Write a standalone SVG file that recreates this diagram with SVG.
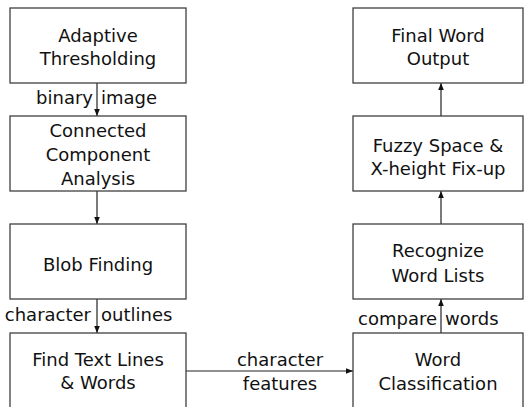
<svg xmlns="http://www.w3.org/2000/svg" width="525" height="407" viewBox="0 0 525 407">
<defs>
<style>
.box{fill:#fff;stroke:#404040;stroke-width:1.3}
.t{font-family:"DejaVu Sans","Noto Sans",sans-serif;font-size:18px;fill:#111;text-anchor:middle}
.l{font-family:"DejaVu Sans","Noto Sans",sans-serif;font-size:18px;fill:#111}
.c{stroke:#222;stroke-width:1.2;fill:none}
</style>
<marker id="ah" viewBox="0 0 10 10" refX="10" refY="5" markerWidth="6" markerHeight="6" orient="auto-start-reverse">
<path d="M0,1 L10,5 L0,9 z" fill="#111"/>
</marker>
</defs>
<rect width="525" height="407" fill="#fff"/>
<g id="connectors">
<line class="c" x1="97" y1="83" x2="97" y2="116" marker-end="url(#ah)"/>
<line class="c" x1="97" y1="191" x2="97" y2="224" marker-end="url(#ah)"/>
<line class="c" x1="97" y1="299" x2="97" y2="333" marker-end="url(#ah)"/>
<line class="c" x1="186" y1="371" x2="353" y2="371" marker-end="url(#ah)"/>
<line class="c" x1="441" y1="333" x2="441" y2="299" marker-end="url(#ah)"/>
<line class="c" x1="441" y1="224" x2="441" y2="191" marker-end="url(#ah)"/>
<line class="c" x1="441" y1="116" x2="441" y2="83" marker-end="url(#ah)"/>
<text class="l" x="93" y="104" text-anchor="end">binary</text>
<text class="l" x="101" y="104">image</text>
<text class="l" x="91" y="321" text-anchor="end">character</text>
<text class="l" x="101" y="321">outlines</text>
<text class="t" x="280" y="366">character</text>
<text class="t" x="280" y="390">features</text>
<text class="l" x="437" y="325" text-anchor="end">compare</text>
<text class="l" x="445" y="325">words</text>
</g>
<g id="adaptive">
<rect class="box" x="10" y="8" width="176" height="75"/>
<text class="t" x="98" y="42">Adaptive</text>
<text class="t" x="98" y="65">Thresholding</text>
</g>
<g id="connected">
<rect class="box" x="10" y="116" width="176" height="75"/>
<text class="t" x="98" y="137">Connected</text>
<text class="t" x="98" y="161">Component</text>
<text class="t" x="98" y="185">Analysis</text>
</g>
<g id="blob">
<rect class="box" x="10" y="224" width="176" height="75"/>
<text class="t" x="98" y="271">Blob Finding</text>
</g>
<g id="findtext">
<rect class="box" x="10" y="333" width="176" height="80"/>
<text class="t" x="98" y="366">Find Text Lines</text>
<text class="t" x="98" y="389">&amp; Words</text>
</g>
<g id="final">
<rect class="box" x="353" y="8" width="170" height="75"/>
<text class="t" x="438" y="42">Final Word</text>
<text class="t" x="438" y="65">Output</text>
</g>
<g id="fuzzy">
<rect class="box" x="353" y="116" width="170" height="75"/>
<text class="t" x="438" y="152">Fuzzy Space &amp;</text>
<text class="t" x="438" y="175">X-height Fix-up</text>
</g>
<g id="recognize">
<rect class="box" x="353" y="224" width="170" height="75"/>
<text class="t" x="438" y="257">Recognize</text>
<text class="t" x="438" y="282">Word Lists</text>
</g>
<g id="wordclass">
<rect class="box" x="353" y="333" width="170" height="80"/>
<text class="t" x="438" y="366">Word</text>
<text class="t" x="438" y="390">Classification</text>
</g>
</svg>
